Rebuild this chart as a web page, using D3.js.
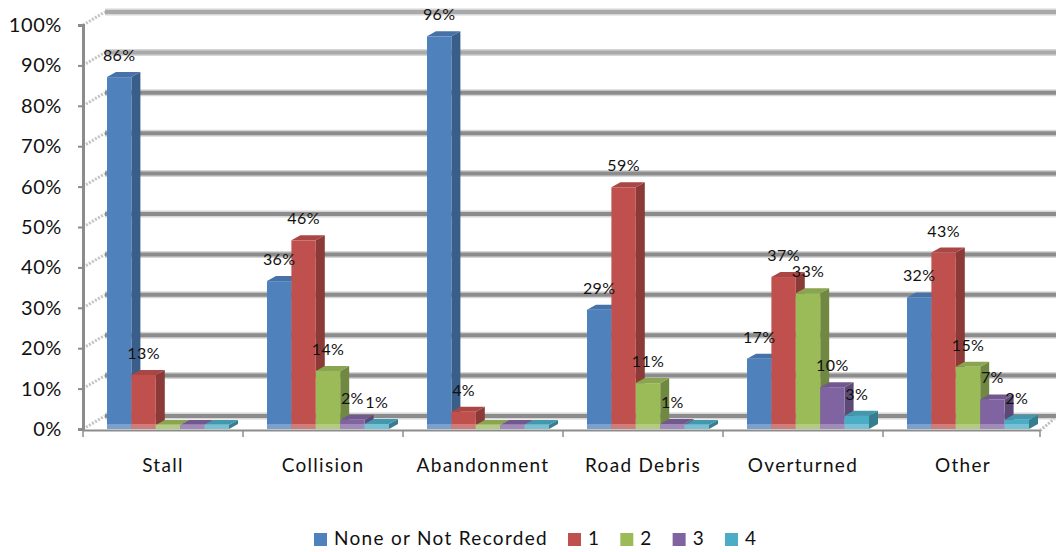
<!DOCTYPE html>
<html>
<head>
<meta charset="utf-8">
<script src="https://cdn.jsdelivr.net/npm/d3@7"></script>
<style>
  html, body { margin: 0; padding: 0; background: #fff; }
  svg { display: block; }
  text { font-family: Lato, "Open Sans", sans-serif; fill: #111; }
</style>
</head>
<body>
<svg id="chart" width="1056" height="552"></svg>
<script>
// ---- data ----
const categories = ["Stall", "Collision", "Abandonment", "Road Debris", "Overturned", "Other"];
const seriesNames = ["None or Not Recorded", "1", "2", "3", "4"];
const seriesColors = ["#4F81BD", "#C0504D", "#9BBB59", "#8064A2", "#4BACC6"];
const noneOrNotRecorded = [86, 36, 96, 29, 17, 32];
const one = [13, 46, 4, 59, 37, 43];
const two = [0, 14, 0, 11, 33, 15];
const three = [0, 2, 0, 1, 10, 7];
const four = [0, 1, 0, 0, 3, 2];
const yTicks = [0, 10, 20, 30, 40, 50, 60, 70, 80, 90, 100];

const seriesValues = [noneOrNotRecorded, one, two, three, four];

// ---- layout ----
const svg = d3.select("#chart");
const W = 1056, H = 552;
const left = 83, right = 1043, base = 429;
const depthX = 22, depthY = -13;      // wall depth offset
const barDX = 9, barDY = -5;          // bar depth offset

const x = d3.scaleBand().domain(categories).range([left, right]).padding(0);
const inner = d3.scaleBand().domain(seriesNames).range([24, 24 + 5 * 24.4]).padding(0);
const yAxisScale = d3.scaleLinear().domain([0, 100]).range([429, 25]);
const yBar = d3.scaleLinear().domain([0, 100]).range([428, 20]);

// ---- side wall diagonals ----
const gWall = svg.append("g");
yTicks.forEach(v => {
  const y0 = yAxisScale(v);
  gWall.append("line")
    .attr("x1", left).attr("y1", y0)
    .attr("x2", left + depthX).attr("y2", y0 + depthY)
    .attr("stroke", "#c4c4c4").attr("stroke-width", 3)
    .attr("stroke-dasharray", "2,1.5");
});

// ---- back wall gridlines ----
const gGrid = svg.append("g");
yTicks.forEach((v, i) => {
  const yb = yAxisScale(v) + depthY;
  const shade = v >= 90 ? "#a9a9a9" : "#8c8c8c";
  gGrid.append("line")
    .attr("x1", left + depthX).attr("x2", W)
    .attr("y1", yb).attr("y2", yb)
    .attr("stroke", "#d6d6d6").attr("stroke-width", 7);
  gGrid.append("line")
    .attr("x1", left + depthX).attr("x2", W)
    .attr("y1", yb).attr("y2", yb)
    .attr("stroke", shade).attr("stroke-width", 4);
});

// ---- floor edges ----
svg.append("line")
  .attr("x1", left).attr("x2", right - 3)
  .attr("y1", 430.5).attr("y2", 430.5)
  .attr("stroke", "#8c8c8c").attr("stroke-width", 2);
svg.append("line")
  .attr("x1", right - 3).attr("y1", 430.5)
  .attr("x2", right + 11).attr("y2", 419)
  .attr("stroke", "#bdbdbd").attr("stroke-width", 3)
  .attr("stroke-dasharray", "2,1.5");
// category ticks
categories.concat(["__end"]).forEach((c, i) => {
  const xx = i < categories.length ? x(c) : right - 3;
  svg.append("line")
    .attr("x1", xx).attr("x2", xx)
    .attr("y1", 430).attr("y2", 437)
    .attr("stroke", "#8c8c8c").attr("stroke-width", 1.5);
});

// ---- y axis ----
const yAxis = d3.axisLeft(yAxisScale)
  .tickValues(yTicks)
  .tickFormat(d => d + "%")
  .tickSize(5)
  .tickPadding(16);
const gy = svg.append("g").attr("transform", `translate(${left},0)`).call(yAxis);
gy.select(".domain").attr("stroke", "#8c8c8c").attr("stroke-width", 3);
gy.selectAll(".tick line").attr("stroke", "#8c8c8c").attr("stroke-width", 2);
gy.selectAll(".tick text")
  .style("font-family", "Lato, sans-serif")
  .style("font-size", "20px")
  .style("letter-spacing", "0.6px")
  .attr("fill", "#111");

// ---- bars ----
const gBars = svg.append("g");
categories.forEach((cat, ci) => {
  seriesNames.forEach((s, si) => {
    const v = seriesValues[si][ci];
    const col = d3.color(seriesColors[si]);
    const bw = inner.bandwidth();
    const x0 = x(cat) + inner(s);
    const yTop = Math.min(yBar(v), base - 4);
    const g = gBars.append("g");
    // side face
    g.append("polygon")
      .attr("points", [
        [x0 + bw, yTop], [x0 + bw + barDX, yTop + barDY],
        [x0 + bw + barDX, base + barDY], [x0 + bw, base]
      ].map(p => p.join(",")).join(" "))
      .attr("fill", col.darker(0.9));
    // top face
    g.append("polygon")
      .attr("points", [
        [x0, yTop], [x0 + barDX, yTop + barDY],
        [x0 + bw + barDX, yTop + barDY], [x0 + bw, yTop]
      ].map(p => p.join(",")).join(" "))
      .attr("fill", col.darker(0.35));
    // front face
    g.append("rect")
      .attr("x", x0).attr("y", yTop)
      .attr("width", bw).attr("height", base - yTop)
      .attr("fill", col);
    // translucent floor band near bottom
    g.append("rect")
      .attr("x", x0).attr("y", base - 5)
      .attr("width", bw).attr("height", 5)
      .attr("fill", "#ffffff").attr("opacity", 0.25);
  });
});

// ---- data labels ----
const gLab = svg.append("g");
categories.forEach((cat, ci) => {
  seriesNames.forEach((s, si) => {
    const v = seriesValues[si][ci];
    if (v <= 0) return;
    gLab.append("text")
      .attr("x", x(cat) + inner(s) + inner.bandwidth() / 2)
      .attr("y", yBar(v) - 20)
      .attr("text-anchor", "middle")
      .attr("dominant-baseline", "middle")
      .style("font-size", "16px")
      .style("letter-spacing", "0.4px")
      .text(v + "%");
  });
});

// ---- category labels ----
svg.append("g").selectAll("text")
  .data(categories)
  .join("text")
  .attr("x", d => x(d) + x.bandwidth() / 2)
  .attr("y", 467)
  .attr("text-anchor", "middle")
  .attr("dominant-baseline", "middle")
  .style("font-size", "19px")
  .style("letter-spacing", "1.3px")
  .text(d => d);

// ---- legend ----
const gLeg = svg.append("g");
let lx = 314;
seriesNames.forEach((s, si) => {
  gLeg.append("rect")
    .attr("x", lx).attr("y", 533)
    .attr("width", 13).attr("height", 13)
    .attr("fill", seriesColors[si]);
  const t = gLeg.append("text")
    .attr("x", lx + 20).attr("y", 540)
    .attr("dominant-baseline", "middle")
    .style("font-size", "19px")
    .style("letter-spacing", "1.3px")
    .text(s);
  const w = t.node().getComputedTextLength();
  lx += 20 + w + 20;
});
</script>
</body>
</html>
